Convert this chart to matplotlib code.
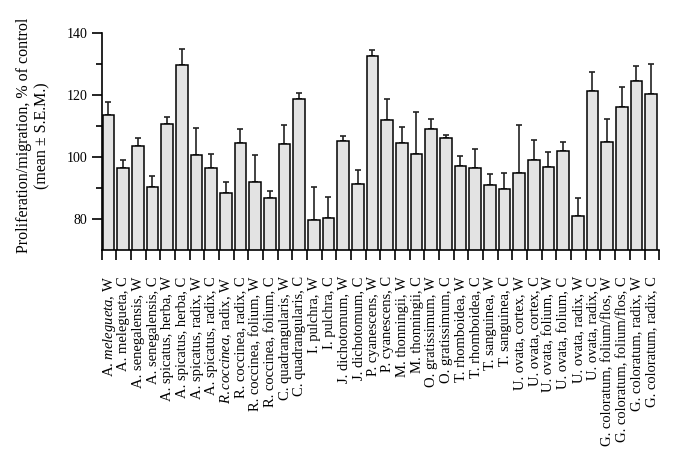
import matplotlib.pyplot as plt
import numpy as np

plt.rcParams['font.family'] = ['Liberation Serif', 'DejaVu Serif']
plt.rcParams['mathtext.fontset'] = 'custom'
plt.rcParams['mathtext.rm'] = 'Liberation Serif'
plt.rcParams['mathtext.it'] = 'Liberation Serif:italic'

labels = [
    r"A. $\mathit{melegueta}$, W", "A. melegueta, C",
    "A. senegalensis, W", "A. senegalensis, C",
    "A. spicatus, herba, W", "A. spicatus, herba, C",
    "A. spicatus, radix, W", "A. spicatus, radix, C",
    r"$\mathit{R. coccinea}$, radix, W", "R. coccinea, radix, C",
    "R. coccinea, folium, W", "R. coccinea, folium, C",
    "C. quadrangularis, W", "C. quadrangularis, C",
    "I. pulchra, W", "I. pulchra, C",
    "J. dichotomum, W", "J. dichotomum, C",
    "P. cyanescens, W", "P. cyanescens, C",
    "M. thonningii, W", "M. thonningii, C",
    "O. gratissimum, W", "O. gratissimum, C",
    "T. rhomboidea, W", "T. rhomboidea, C",
    "T. sanguinea, W", "T. sanguinea, C",
    "U. ovata, cortex, W", "U. ovata, cortex, C",
    "U. ovata, folium, W", "U. ovata, folium, C",
    "U. ovata, radix, W", "U. ovata, radix, C",
    "G. coloratum, folium/flos, W", "G. coloratum, folium/flos, C",
    "G. coloratum, radix, W", "G. coloratum, radix, C",
]
means = [113.7, 96.4, 103.6, 90.4, 110.6, 129.7, 100.8, 96.3, 88.3, 104.5,
         92.1, 86.7, 104.3, 118.7, 79.6, 80.4, 105.2, 91.2, 132.6, 111.8,
         104.5, 101.1, 108.9, 106.2, 97.0, 96.6, 91.1, 89.7, 95.0, 99.2,
         96.9, 102.0, 81.1, 121.3, 104.8, 116.2, 124.4, 120.4]
upper = [117.7, 99.1, 106.2, 94.0, 112.9, 134.8, 109.4, 100.9, 92.0, 109.1,
         100.8, 89.0, 110.4, 120.8, 90.2, 87.2, 106.7, 95.9, 134.4, 118.7,
         109.7, 114.4, 112.4, 107.1, 100.3, 102.5, 94.5, 94.9, 110.4, 105.6,
         101.6, 104.7, 86.9, 127.3, 112.3, 122.6, 129.3, 129.9]
sem = [u - m for u, m in zip(upper, means)]

fig = plt.figure(figsize=(6.74, 4.73), dpi=100)
ax = fig.add_axes([0.151, 0.4715, 0.827, 0.4585])

x = np.arange(len(means))
ax.bar(x - 0.05, means, width=0.79, bottom=0, color='#e3e3e3',
       edgecolor='black', linewidth=1.1, zorder=2)
ax.errorbar(x - 0.05, means, yerr=[np.zeros(len(sem)), sem], fmt='none',
            ecolor='#222222', elinewidth=1.2, capsize=2, capthick=1.2, zorder=1)

ax.set_ylim(70, 140)
ax.set_xlim(-0.5, len(means) - 0.5)
ax.set_yticks([80, 100, 120, 140])
ax.set_yticks([90, 110, 130], minor=True)
ax.set_xticks(x)
ax.set_xticklabels(labels, rotation=90, fontsize=10.5)
ax.set_xticks(np.arange(len(means) + 1) - 0.5, minor=True)
ax.tick_params(axis='x', which='major', length=0, pad=19)
ax.tick_params(axis='x', which='minor', length=7, width=1.2)
ax.tick_params(axis='y', which='major', length=7, width=1.2, labelsize=10)
ax.tick_params(axis='y', which='minor', length=4, width=1.2)
for s in ['top', 'right']:
    ax.spines[s].set_visible(False)
for s in ['left', 'bottom']:
    ax.spines[s].set_linewidth(1.2)
ax.set_ylabel('Proliferation/migration, % of control\n(mean ± S.E.M.)', fontsize=11.5)
ax.yaxis.set_label_coords(-0.093, 0.528)

fig.savefig('out.png', dpi=100)
